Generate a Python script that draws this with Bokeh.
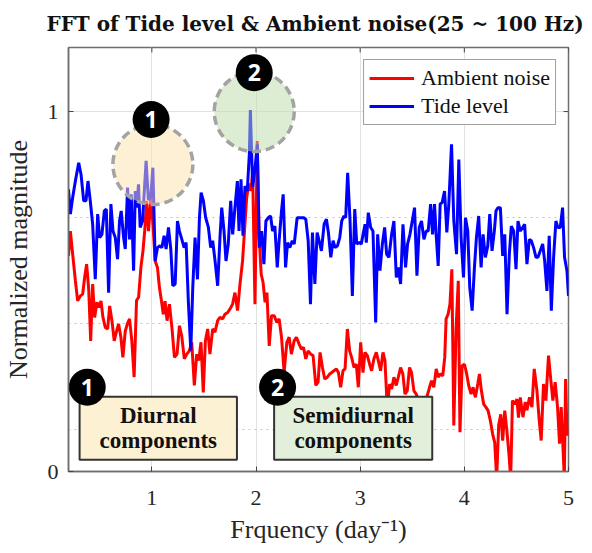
from bokeh.plotting import figure
from bokeh.models import Range1d, FixedTicker, Grid, Legend, LegendItem, Title
from bokeh.core.properties import value
from bokeh.embed import file_html
from bokeh.resources import INLINE

# ---- spectra (frequency in cycles/day, normalized magnitude) ----
tide_freq = [0.200, 0.218, 0.240, 0.266, 0.298, 0.320, 0.346, 0.368, 0.387, 0.409,
             0.432, 0.457, 0.480, 0.499, 0.521, 0.544, 0.563, 0.585, 0.607, 0.627,
             0.649, 0.671, 0.690, 0.706, 0.729, 0.745, 0.767, 0.786, 0.802, 0.825,
             0.841, 0.856, 0.872, 0.888, 0.911, 0.945, 0.967, 0.989, 1.010, 1.032,
             1.054, 1.077, 1.096, 1.118, 1.137, 1.160, 1.182, 1.201, 1.224, 1.246,
             1.265, 1.288, 1.310, 1.329, 1.351, 1.374, 1.393, 1.415, 1.438, 1.457,
             1.473, 1.495, 1.517, 1.543, 1.565, 1.584, 1.607, 1.632, 1.655, 1.671,
             1.693, 1.712, 1.734, 1.757, 1.776, 1.798, 1.821, 1.837, 1.856, 1.875,
             1.894, 1.916, 1.936, 1.946, 1.968, 1.990, 2.012, 2.031, 2.054, 2.076,
             2.095, 2.118, 2.140, 2.159, 2.181, 2.204, 2.223, 2.245, 2.261, 2.284,
             2.303, 2.325, 2.348, 2.367, 2.395, 2.415, 2.437, 2.459, 2.478, 2.501,
             2.523, 2.542, 2.565, 2.587, 2.606, 2.628, 2.654, 2.676, 2.695, 2.718,
             2.740, 2.759, 2.782, 2.804, 2.823, 2.845, 2.861, 2.880, 2.903, 2.925,
             2.948, 2.967, 2.989, 3.011, 3.031, 3.047, 3.059, 3.078, 3.101, 3.123,
             3.149, 3.168, 3.190, 3.213, 3.235, 3.254, 3.276, 3.302, 3.324, 3.347,
             3.366, 3.388, 3.411, 3.436, 3.455, 3.478, 3.500, 3.522, 3.545, 3.567,
             3.589, 3.612, 3.634, 3.653, 3.676, 3.695, 3.714, 3.730, 3.749, 3.768,
             3.787, 3.810, 3.832, 3.851, 3.877, 3.899, 3.925, 3.947, 3.969, 3.992,
             4.011, 4.033, 4.052, 4.075, 4.097, 4.116, 4.138, 4.161, 4.180, 4.202,
             4.225, 4.244, 4.266, 4.288, 4.304, 4.324, 4.346, 4.368, 4.388, 4.410,
             4.432, 4.451, 4.474, 4.496, 4.515, 4.538, 4.560, 4.579, 4.601, 4.624,
             4.643, 4.665, 4.688, 4.707, 4.729, 4.752, 4.771, 4.793, 4.815, 4.835,
             4.857, 4.879, 4.898, 4.921, 4.943, 4.962, 4.985, 5.000]
tide_mag = [0.784, 0.715, 0.761, 0.807, 0.858, 0.826, 0.752, 0.752, 0.807, 0.752,
            0.687, 0.534, 0.715, 0.650, 0.659, 0.724, 0.729, 0.497, 0.743, 0.668,
            0.650, 0.590, 0.696, 0.724, 0.650, 0.618, 0.789, 0.645, 0.770, 0.558,
            0.779, 0.733, 0.798, 0.678, 0.696, 0.863, 0.755, 0.760, 0.844, 0.585,
            0.622, 0.627, 0.622, 0.655, 0.618, 0.678, 0.618, 0.516, 0.521, 0.696,
            0.668, 0.645, 0.622, 0.636, 0.470, 0.336, 0.511, 0.650, 0.534, 0.705,
            0.775, 0.752, 0.705, 0.678, 0.622, 0.641, 0.585, 0.516, 0.655, 0.733,
            0.668, 0.585, 0.632, 0.752, 0.659, 0.733, 0.807, 0.668, 0.812, 0.655,
            0.793, 0.779, 0.881, 1.004, 0.790, 0.840, 0.909, 0.622, 0.668, 0.576,
            0.696, 0.705, 0.710, 0.668, 0.682, 0.567, 0.645, 0.724, 0.770, 0.567,
            0.636, 0.622, 0.641, 0.632, 0.705, 0.705, 0.705, 0.705, 0.701, 0.641,
            0.465, 0.664, 0.521, 0.664, 0.641, 0.613, 0.687, 0.701, 0.664, 0.595,
            0.641, 0.622, 0.627, 0.650, 0.696, 0.710, 0.705, 0.830, 0.696, 0.488,
            0.729, 0.632, 0.636, 0.632, 0.664, 0.687, 0.636, 0.719, 0.678, 0.668,
            0.414, 0.659, 0.558, 0.632, 0.678, 0.604, 0.595, 0.659, 0.696, 0.539,
            0.567, 0.521, 0.687, 0.567, 0.632, 0.659, 0.696, 0.733, 0.544, 0.678,
            0.696, 0.645, 0.668, 0.668, 0.743, 0.659, 0.743, 0.655, 0.571, 0.743,
            0.747, 0.779, 0.664, 0.743, 0.909, 0.696, 0.604, 0.867, 0.650, 0.539,
            0.705, 0.668, 0.511, 0.447, 0.567, 0.650, 0.710, 0.567, 0.659, 0.595,
            0.627, 0.715, 0.613, 0.668, 0.724, 0.733, 0.733, 0.599, 0.659, 0.437,
            0.604, 0.682, 0.668, 0.562, 0.696, 0.668, 0.678, 0.687, 0.576, 0.645,
            0.641, 0.622, 0.595, 0.595, 0.613, 0.632, 0.585, 0.502, 0.655, 0.447,
            0.595, 0.696, 0.678, 0.678, 0.733, 0.595, 0.558, 0.488]

noise_freq = [0.200, 0.218, 0.240, 0.266, 0.288, 0.314, 0.336, 0.355, 0.374, 0.394,
              0.413, 0.432, 0.451, 0.473, 0.492, 0.512, 0.531, 0.553, 0.576, 0.595,
              0.617, 0.639, 0.659, 0.681, 0.703, 0.722, 0.745, 0.765, 0.786, 0.808,
              0.830, 0.853, 0.873, 0.895, 0.915, 0.932, 0.950, 0.968, 0.990, 1.010,
              1.032, 1.054, 1.073, 1.092, 1.110, 1.127, 1.146, 1.169, 1.194, 1.217,
              1.242, 1.265, 1.287, 1.312, 1.335, 1.360, 1.383, 1.408, 1.431, 1.450,
              1.472, 1.494, 1.514, 1.536, 1.558, 1.584, 1.606, 1.632, 1.654, 1.680,
              1.702, 1.728, 1.750, 1.775, 1.798, 1.823, 1.846, 1.871, 1.890, 1.910,
              1.930, 1.950, 1.968, 1.990, 2.012, 2.031, 2.050, 2.068, 2.087, 2.105,
              2.127, 2.149, 2.174, 2.200, 2.222, 2.245, 2.270, 2.296, 2.318, 2.340,
              2.366, 2.388, 2.414, 2.436, 2.456, 2.478, 2.500, 2.526, 2.548, 2.574,
              2.596, 2.615, 2.638, 2.660, 2.685, 2.708, 2.727, 2.749, 2.772, 2.791,
              2.813, 2.835, 2.855, 2.877, 2.899, 2.918, 2.941, 2.963, 2.982, 3.005,
              3.027, 3.046, 3.069, 3.091, 3.110, 3.132, 3.155, 3.174, 3.196, 3.219,
              3.238, 3.260, 3.283, 3.302, 3.324, 3.346, 3.366, 3.388, 3.410, 3.430,
              3.452, 3.474, 3.493, 3.516, 3.538, 3.557, 3.579, 3.602, 3.621, 3.643,
              3.666, 3.685, 3.707, 3.730, 3.749, 3.771, 3.793, 3.812, 3.825, 3.844,
              3.862, 3.880, 3.899, 3.921, 3.942, 3.958, 3.979, 4.001, 4.020, 4.042,
              4.065, 4.084, 4.106, 4.129, 4.145, 4.164, 4.186, 4.208, 4.228, 4.250,
              4.272, 4.292, 4.310, 4.330, 4.350, 4.368, 4.388, 4.408, 4.428, 4.445,
              4.462, 4.483, 4.505, 4.520, 4.537, 4.563, 4.585, 4.601, 4.626, 4.649,
              4.671, 4.697, 4.719, 4.738, 4.760, 4.783, 4.808, 4.831, 4.850, 4.872,
              4.895, 4.914, 4.930, 4.960, 4.972, 4.986, 5.000]
noise_mag = [0.599, 0.668, 0.604, 0.530, 0.474, 0.488, 0.493, 0.539, 0.576, 0.507,
             0.363, 0.521, 0.428, 0.470, 0.456, 0.474, 0.428, 0.400, 0.396, 0.460,
             0.419, 0.363, 0.387, 0.410, 0.373, 0.317, 0.390, 0.410, 0.424, 0.363,
             0.262, 0.475, 0.484, 0.567, 0.613, 0.670, 0.752, 0.668, 0.757, 0.690,
             0.585, 0.567, 0.511, 0.475, 0.437, 0.473, 0.419, 0.465, 0.396, 0.317,
             0.326, 0.405, 0.377, 0.313, 0.326, 0.335, 0.359, 0.239, 0.326, 0.308,
             0.359, 0.220, 0.363, 0.396, 0.326, 0.396, 0.387, 0.419, 0.428, 0.424,
             0.437, 0.442, 0.451, 0.465, 0.497, 0.447, 0.520, 0.585, 0.670, 0.760,
             0.800, 0.780, 0.830, 0.465, 0.918, 0.650, 0.548, 0.525, 0.470, 0.497,
             0.349, 0.433, 0.433, 0.414, 0.424, 0.373, 0.276, 0.359, 0.373, 0.326,
             0.363, 0.373, 0.354, 0.340, 0.345, 0.313, 0.335, 0.326, 0.322, 0.239,
             0.248, 0.331, 0.289, 0.257, 0.262, 0.271, 0.275, 0.280, 0.285, 0.275,
             0.234, 0.280, 0.285, 0.396, 0.335, 0.317, 0.289, 0.298, 0.234, 0.359,
             0.275, 0.331, 0.322, 0.298, 0.280, 0.313, 0.331, 0.308, 0.280, 0.331,
             0.308, 0.178, 0.243, 0.229, 0.262, 0.239, 0.262, 0.289, 0.271, 0.215,
             0.224, 0.289, 0.275, 0.224, 0.215, 0.201, 0.187, 0.173, 0.178, 0.210,
             0.234, 0.252, 0.234, 0.285, 0.262, 0.271, 0.266, 0.317, 0.424, 0.437,
             0.465, 0.562, 0.128, 0.400, 0.530, 0.109, 0.294, 0.298, 0.275, 0.239,
             0.215, 0.234, 0.206, 0.243, 0.271, 0.224, 0.187, 0.178, 0.169, 0.141,
             0.104, 0.080, -0.020, 0.130, 0.159, 0.086, 0.169, 0.114, 0.050, -0.020,
             0.197, 0.187, 0.201, 0.150, 0.206, 0.151, 0.193, 0.170, 0.206, 0.179,
             0.285, 0.225, 0.142, 0.086, 0.243, 0.197, 0.322, 0.252, 0.197, 0.248,
             0.179, 0.077, 0.179, -0.020, 0.257, 0.100, 0.123]

x_ticks = [1, 2, 3, 4, 5]
y_ticks = [0, 1]
y_tick_labels = {0: "0", 1: "1"}
y_dotted = [0.1165, 0.412, 0.707]

X0, X1 = 0.2, 5.0
Y0, Y1 = 0.0, 1.178
FW, FH = 501, 424          # frame size in px
SERIF = "Liberation Serif"
TXT = "#262626"
FRAME = "#6e6e6e"
TICK = "#444444"

p = figure(width=592, height=553, output_backend="svg", toolbar_location=None,
           x_range=Range1d(X0, X1), y_range=Range1d(Y0, Y1),
           min_border_left=67, min_border_right=24, min_border_top=47,
           min_border_bottom=82, background_fill_color="white",
           border_fill_color="white", outline_line_color=FRAME,
           outline_line_width=1.5)

px_x = (X1 - X0) / FW      # data units per pixel
px_y = (Y1 - Y0) / FH

p.title.text = "FFT of  Tide level & Ambient noise(25 ~ 100 Hz)"
p.title.text_font = "DejaVu Serif"
p.title.text_font_style = "bold"
p.title.text_font_size = "20px"
p.title.text_color = "#111111"
p.title.text_line_height = 0.85
p.title.align = "center"
p.title.vertical_align = "middle"
p.title.standoff = 21

# axes: inward ticks, labels on bottom/left
xa = p.xaxis[0]
ya = p.yaxis[0]
xa.ticker = FixedTicker(ticks=x_ticks)
ya.ticker = FixedTicker(ticks=y_ticks)
ya.major_label_overrides = y_tick_labels
for ax in (xa, ya):
    ax.major_tick_in = 5
    ax.major_tick_out = 0
    ax.minor_tick_in = 0
    ax.minor_tick_out = 0
    ax.major_tick_line_color = TICK
    ax.axis_line_color = FRAME
    ax.axis_line_width = 1.5
    ax.major_label_text_font = SERIF
    ax.major_label_text_font_size = "22px"
    ax.major_label_text_color = TXT
xa.major_label_standoff = 19
ya.major_label_standoff = 10
ya.axis_label = "Normalized magnitude"
ya.axis_label_text_font = SERIF
ya.axis_label_text_font_style = "normal"
ya.axis_label_text_font_size = "26px"
ya.axis_label_text_color = TXT
ya.axis_label_standoff = 12

# x caption as a title below the axis
p.add_layout(Title(text="Frquency (day\u207b\u00b9)", align="center",
                   vertical_align="bottom", text_font=SERIF,
                   text_font_style="normal", text_font_size="26px",
                   text_color=TXT, standoff=10, text_line_height=0.85),
             "below")

# grid: solid at major ticks, dotted minor lines
p.xgrid.ticker = FixedTicker(ticks=x_ticks)
p.ygrid.ticker = FixedTicker(ticks=[1])
p.xgrid.grid_line_color = "#e2e2e2"
p.ygrid.grid_line_color = "#e2e2e2"
p.add_layout(Grid(dimension=1, ticker=FixedTicker(ticks=y_dotted),
                  grid_line_color="#c4c4c4", grid_line_dash="2 4"))

# inward tick marks on the top and right edges of the box
p.segment(x0=x_ticks, x1=x_ticks, y0=[Y1] * len(x_ticks),
          y1=[Y1 - 5 * px_y] * len(x_ticks), line_color=TICK, line_width=1)
p.segment(x0=[X1] * len(y_ticks), x1=[X1 - 5 * px_x] * len(y_ticks),
          y0=y_ticks, y1=y_ticks, line_color=TICK, line_width=1)

# spectra
r_noise = p.line(noise_freq, noise_mag, line_color="#ff0000", line_width=3)
r_tide = p.line(tide_freq, tide_mag, line_color="#0000ff", line_width=3)

# highlighted peaks (dashed translucent circles)
hl_x = [1.01, 1.983]
hl_y = [0.853, 1.0]
hl_fill = ["#fbe2a9", "#bcdcaa"]
p.scatter(hl_x, hl_y, size=80, marker="circle", fill_color=hl_fill,
          fill_alpha=0.5, line_color="#a3a3a3", line_width=3.5,
          line_dash="9 5")

# text boxes at the bottom
box_left = [0.3065, 2.174]
box_right = [1.817, 3.692]
box_top = [0.208, 0.208]
box_bottom = [0.0325, 0.0325]
box_fill = ["#fdf1d4", "#e2efda"]
p.quad(left=box_left, right=box_right, top=box_top, bottom=box_bottom,
       fill_color=box_fill, line_color="#333333", line_width=2)
box_cx = [1.062, 2.933]
p.text(box_cx, [0.155, 0.155], text=["Diurnal", "Semidiurnal"],
       text_font=value(SERIF), text_font_style="bold", text_font_size="23px",
       text_color="#111111", text_align="center", text_baseline="middle")
p.text(box_cx, [0.085, 0.085], text=["components", "components"],
       text_font=value(SERIF), text_font_style="bold", text_font_size="23px",
       text_color="#111111", text_align="center", text_baseline="middle")

# numbered black markers
num_x = [0.993, 1.983, 0.380, 2.207]
num_y = [0.978, 1.108, 0.234, 0.234]
num_txt = ["1", "2", "1", "2"]
p.scatter(num_x, num_y, size=37, marker="circle", fill_color="#000000",
          line_color=None)
p.text(num_x, num_y, text=num_txt, text_font=value("Open Sans"),
       text_font_style="bold", text_font_size="23px", text_color="#ffffff",
       text_align="center", text_baseline="middle")

legend = Legend(items=[LegendItem(label="Ambient noise", renderers=[r_noise]),
                       LegendItem(label="Tide level", renderers=[r_tide])],
                location="top_right", margin=12, padding=5, spacing=2,
                glyph_width=45, glyph_height=26, label_height=26,
                label_standoff=7, label_text_font=SERIF,
                label_text_font_size="22px", label_text_color="#111111",
                border_line_color="#404040", border_line_width=1,
                background_fill_alpha=1.0)
p.add_layout(legend)

open("out.html", "w").write(file_html(p, INLINE))
